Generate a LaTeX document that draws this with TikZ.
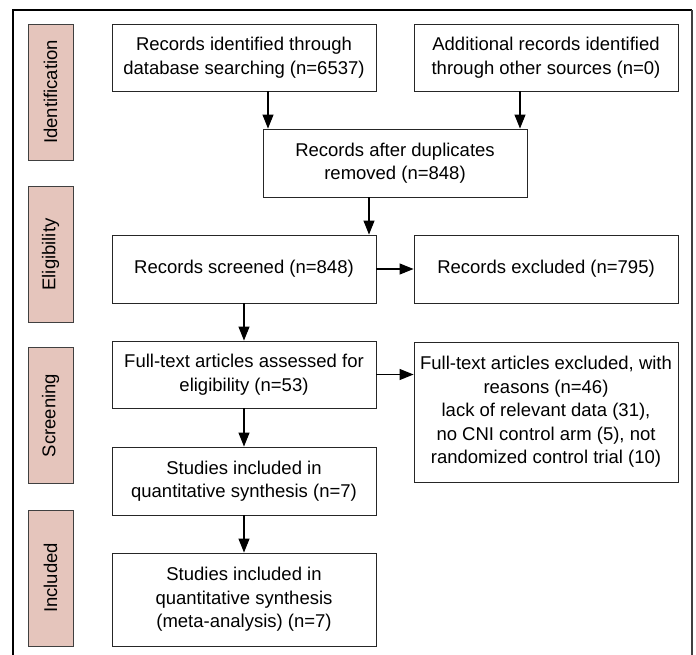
\documentclass[tikz,border=0pt]{standalone}
\usepackage{fontspec}
\setmainfont{Liberation Sans}
\usetikzlibrary{arrows.meta}
\definecolor{stagepink}{HTML}{E5C5BC}
\begin{document}
\begin{tikzpicture}[x=1bp,y=-1bp,
  every node/.style={font=\fontsize{18.5bp}{23.5bp}\selectfont, inner sep=0pt},
  flowbox/.style={draw=black!85, line width=0.9bp, minimum width=264bp, align=center},
  stagebox/.style={draw=black!75, line width=0.9bp, fill=stagepink, minimum width=136bp, minimum height=45bp, rotate=90},
  arr/.style={line width=1.1bp, -{Triangle[length=14bp,width=11bp]}}
]
\useasboundingbox (0,0) rectangle (696,655);
% outer frame
\draw[line width=1.3bp, black] (13,655) -- (13,10) -- (692,10);
\draw[line width=1.8bp, black!75] (692,10) -- (692,655);

% stage labels
\node[stagebox] (s1) at (50.5,92) {Identification};
\node[stagebox] (s2) at (50.5,254.5) {Eligibility};
\node[stagebox] (s3) at (50.5,415.5) {Screening};
\node[stagebox] (s4) at (50.5,578) {Included};

% flow boxes
\node[flowbox, minimum height=67bp] (b1) at (244,57.5) {Records identified through\\database searching (n=6537)};
\node[flowbox, minimum height=67bp] (b2) at (546,57.5) {Additional records identified\\through other sources (n=0)};
\node[flowbox, minimum height=68bp] (b3) at (395,163) {Records after duplicates\\removed (n=848)};
\node[flowbox, minimum height=68bp] (b4) at (244,269) {Records screened (n=848)};
\node[flowbox, minimum height=68bp] (b5) at (546,269) {Records excluded (n=795)};
\node[flowbox, minimum height=67bp] (b6) at (244,374.5) {Full-text articles assessed for\\eligibility (n=53)};
\node[flowbox, minimum height=140bp] (b7) at (546,412) {Full-text articles excluded, with\\reasons (n=46)\\lack of relevant data (31),\\no CNI control arm (5), not\\randomized control trial (10)};
\node[flowbox, minimum height=68bp] (b8) at (244,481) {Studies included in\\quantitative synthesis (n=7)};
\node[flowbox, minimum height=93bp] (b9) at (244,599.5) {Studies included in\\quantitative synthesis\\(meta-analysis) (n=7)};

% connectors
\coordinate (c1) at (268,0);
\coordinate (c2) at (520,0);
\coordinate (c3) at (369,0);
\draw[arr] (b1.south -| c1) -- (b3.north -| c1);
\draw[arr] (b2.south -| c2) -- (b3.north -| c2);
\draw[arr] (b3.south -| c3) -- (b4.north -| c3);
\draw[arr] (b4.east) -- (b5.west);
\draw[arr] (b4.south) -- (b6.north);
\draw[arr] (b6.east) -- (b6.east -| b7.west);
\draw[arr] (b6.south) -- (b8.north);
\draw[arr] (b8.south) -- (b9.north);
\end{tikzpicture}
\end{document}
